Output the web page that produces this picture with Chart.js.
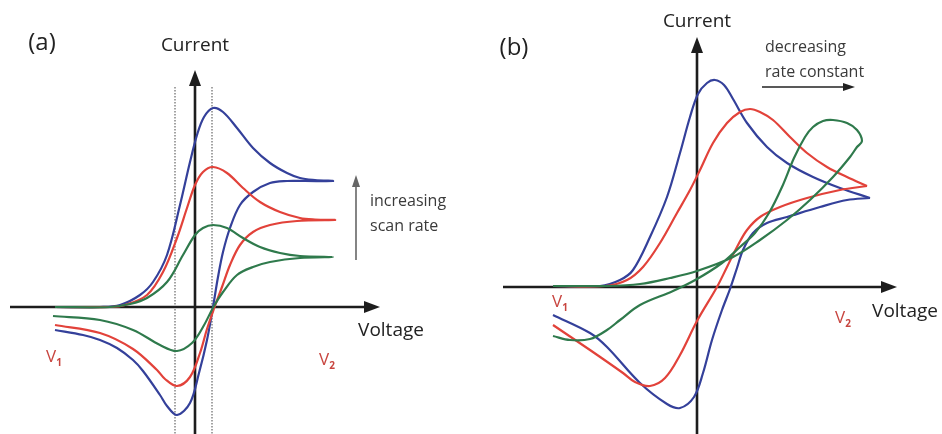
<!DOCTYPE html>
<html>
<head>
<meta charset="utf-8">
<script src="https://cdn.jsdelivr.net/npm/chart.js@4.4.1/dist/chart.umd.min.js"></script>
<style>
  html, body { margin: 0; padding: 0; background: #fff; }
  .row { display: flex; width: 942px; height: 434px; }
  .panel { position: relative; height: 434px; }
  #pa { width: 470px; }
  #pb { width: 472px; }
</style>
</head>
<body>
<div class="row">
  <div class="panel" id="pa"><canvas id="chartA"></canvas></div>
  <div class="panel" id="pb"><canvas id="chartB"></canvas></div>
</div>
<script>
'use strict';

/* Two schematic cyclic voltammograms: (a) scan-rate series, (b) rate-constant series.
   Values are [voltage, current] in arbitrary units, origin at the axes crossing. */

// ---------------------------------------------------------------- (a) scan rate
const aBlueFwd = [[-14, 0], [-9.5, 0], [-7.5, 0.2], [-5.5, 1.2], [-4.2, 2.5], [-2.8, 5.2], [-1.5, 10.2], [-0.5, 14.5],
  [0.2, 17.2], [0.9, 19.0], [1.8, 19.9], [2.8, 19.5], [4.2, 17.9], [5.8, 15.9], [7.5, 14.4], [9.2, 13.4], [10.5, 12.9],
  [12, 12.7], [13.8, 12.6]];
const aBlueRev = [[13.8, 12.6], [11, 12.6], [9.2, 12.6], [7.5, 12.4], [5.8, 11.5], [4.5, 10.2], [3.5, 7.9], [2.8, 5.5],
  [2.3, 3.0], [1.8, 0], [1.2, -3.3], [0.4, -6.6], [-0.5, -9.6], [-1.8, -10.8], [-2.8, -9.9], [-3.5, -8.8],
  [-5.2, -6.4], [-6.2, -5.3], [-7.8, -4.1], [-9.5, -3.3], [-11.2, -2.8], [-14, -2.3]];

const aRedFwd = [[-14, 0], [-8.5, 0], [-7, 0.2], [-4.8, 1.2], [-3.2, 3.5], [-1.8, 6.9], [-0.8, 9.9], [0, 12.2], [0.8, 13.5],
  [1.8, 14.0], [3.2, 13.4], [4.8, 11.9], [6.5, 10.5], [8.5, 9.5], [10.5, 8.9], [12, 8.75], [14, 8.7]];
const aRedRev = [[14, 8.7], [10.2, 8.6], [7.5, 8.2], [5.8, 7.5], [4.5, 6.2], [3.5, 4.2], [2.7, 2.0], [1.85, -0.3],
  [1.2, -2.2], [0.5, -4.6], [-0.5, -7.0], [-1.8, -7.9], [-3, -7.2], [-3.8, -6.3], [-6.2, -4.2], [-9.5, -2.6], [-14, -1.8]];

const aGreenFwd = [[-14, 0], [-8.5, 0], [-6.5, 0.3], [-4.8, 0.9], [-2.8, 2.5], [-1.2, 5.2], [0, 7.2], [0.8, 7.9],
  [1.8, 8.2], [3.2, 7.9], [4.8, 6.9], [6.5, 6.0], [8.5, 5.4], [10.5, 5.1], [13.8, 5.0]];
const aGreenRev = [[13.8, 5.0], [10.5, 4.9], [7.5, 4.5], [5.8, 4.0], [4.2, 3.2], [2.8, 1.5], [1.9, 0.1], [0.8, -2.0],
  [-0.3, -3.6], [-1.8, -4.4], [-3.5, -3.8], [-6.2, -2.3], [-9.5, -1.3], [-14.2, -0.9]];

// ---------------------------------------------------------------- (b) rate constant
const bBlueFwd = [[-14.4, 0.1], [-9.7, 0.1], [-7.7, 0.7], [-6.4, 1.7], [-4.7, 5.0], [-3.0, 9.0], [-1.7, 13.4], [-0.7, 17.0],
  [0.1, 19.3], [1.0, 20.4], [1.8, 20.7], [2.7, 20.2], [3.6, 18.8], [5.0, 16.4], [7.0, 14.0], [9.0, 12.4], [11.6, 11.0],
  [14.3, 9.9], [17.3, 8.9]];
const bBlueRev = [[17.3, 8.9], [15, 8.7], [12.3, 8.0], [9.0, 7.0], [7.0, 6.4], [5.6, 5.4], [4.6, 3.7], [4.0, 1.9], [3.3, -0.2],
  [2.5, -2.3], [1.5, -5.3], [0.6, -8.6], [-0.3, -11.0], [-1.7, -12.1], [-3, -11.7], [-5.7, -9.6], [-9, -6],
  [-10.7, -4.6], [-14.4, -2.8]];

const bRedFwd = [[-14.4, 0.1], [-9.2, 0.1], [-7.0, 0.7], [-5.4, 2.0], [-3.7, 4.4], [-2.0, 7.4], [-0.7, 9.7], [0.3, 11.7],
  [1.6, 14.4], [3.0, 16.4], [4.3, 17.5], [5.3, 17.8], [6.3, 17.5], [7.6, 16.7], [9.3, 15.0], [11, 13.4], [13, 12.0],
  [15, 11.0], [17, 10.1]];
const bRedRev = [[17, 10.1], [14.3, 9.7], [11, 8.9], [8.3, 8.0], [6.3, 7.0], [5.0, 5.7], [4.0, 4.0], [3.0, 2.0], [2.0, 0],
  [0, -3.4], [-1.7, -6.8], [-3.2, -9.1], [-4.7, -9.9], [-6.2, -9.5], [-7.4, -8.6], [-10.7, -6.3], [-14.4, -3.8]];

const bGreenFwd = [[-14.4, 0.1], [-9, 0.1], [-5.7, 0.3], [-2.7, 0.9], [0, 1.6], [3.6, 3.0], [6.3, 4.7], [9.0, 6.7],
  [11.3, 8.7], [13.6, 11.0], [15.3, 13.0], [16, 14.0], [16.5, 14.6]];
const bGreenRev = [[16.5, 14.6], [16, 15.7], [15, 16.4], [13.6, 16.7], [12.6, 16.6], [11.6, 16.0], [10.8, 15.0], [9.7, 12.9],
  [8.5, 10.0], [7.2, 7.4], [5.8, 5.4], [4.3, 4.0], [2.5, 2.4], [0, 0.8], [-2.4, -0.4], [-5.7, -1.8], [-7.7, -3.3],
  [-9, -4.3], [-10.7, -5.2], [-12.7, -5.3], [-14.4, -4.9]];

const COLORS = { blue: '#34409a', red: '#e2423a', green: '#2f7a4c' };
const FONT = '"Open Sans", "DejaVu Sans", sans-serif';

// ---------------------------------------------------------------- decorations
function arrowHead(ctx, x, y, dir, len, half) {
  // dir: 'up' | 'right'
  ctx.beginPath();
  if (dir === 'up') { ctx.moveTo(x, y); ctx.lineTo(x - half, y + len); ctx.lineTo(x + half, y + len); }
  else { ctx.moveTo(x, y); ctx.lineTo(x - len, y - half); ctx.lineTo(x - len, y + half); }
  ctx.closePath();
  ctx.fill();
}

function vLabel(ctx, X, Y, l) {
  ctx.fillStyle = '#c8453f';
  ctx.font = `17px ${FONT}`;
  ctx.textAlign = 'center'; ctx.textBaseline = 'middle';
  const px = X(l.at[0]), py = Y(l.at[1]);
  ctx.fillText('V', px - 3, py);
  ctx.font = `bold 10px ${FONT}`;
  ctx.fillText(l.sub, px + 5, py + 6);
}

const decor = {
  id: 'decor',
  beforeDatasetsDraw(chart, args, o) {
    const { ctx, scales: { x, y } } = chart;
    const X = (v) => x.getPixelForValue(v), Y = (v) => y.getPixelForValue(v);
    ctx.save();
    (o.guides || []).forEach((g) => {
      ctx.strokeStyle = 'rgba(120,120,120,0.85)';
      ctx.lineWidth = 1.6;
      ctx.setLineDash([1.5, 1.5]);
      ctx.beginPath(); ctx.moveTo(X(g), Y(o.guideTop)); ctx.lineTo(X(g), Y(o.yAxis[0])); ctx.stroke();
    });
    ctx.setLineDash([]);
    ctx.strokeStyle = '#1d1d1d'; ctx.fillStyle = '#1d1d1d'; ctx.lineWidth = 2.6;
    ctx.beginPath();
    ctx.moveTo(X(o.xAxis[0]), Y(0)); ctx.lineTo(X(o.xAxis[1]) - 10, Y(0));
    ctx.moveTo(X(0), Y(o.yAxis[0])); ctx.lineTo(X(0), Y(o.yAxis[1]) + 10);
    ctx.stroke();
    arrowHead(ctx, X(o.xAxis[1]), Y(0), 'right', 16, 6);
    arrowHead(ctx, X(0), Y(o.yAxis[1]), 'up', 16, 6);
    ctx.restore();
  },
  afterDatasetsDraw(chart, args, o) {
    const { ctx, scales: { x, y } } = chart;
    const X = (v) => x.getPixelForValue(v), Y = (v) => y.getPixelForValue(v);
    ctx.save();
    ctx.fillStyle = '#222'; ctx.textAlign = 'center'; ctx.textBaseline = 'middle';
    ctx.font = `24px ${FONT}`;
    ctx.fillText(o.tag.text, X(o.tag.at[0]), Y(o.tag.at[1]));
    ctx.font = `19px ${FONT}`;
    ctx.fillText('Current', X(o.current[0]), Y(o.current[1]));
    ctx.fillText('Voltage', X(o.voltage[0]), Y(o.voltage[1]));
    o.vs.forEach((l) => vLabel(ctx, X, Y, l));

    // note with its arrow
    const n = o.note;
    ctx.fillStyle = '#3a3a3a'; ctx.textAlign = 'left';
    ctx.font = `16px ${FONT}`;
    n.lines.forEach((t, i) => ctx.fillText(t, X(n.at[0]), Y(n.at[1]) + i * 25));
    ctx.strokeStyle = n.arrowColor; ctx.fillStyle = n.arrowColor; ctx.lineWidth = 1.6;
    ctx.beginPath();
    if (n.dir === 'up') {
      ctx.moveTo(X(n.arrow[0]), Y(n.arrow[1])); ctx.lineTo(X(n.arrow[0]), Y(n.arrow[2]) + 8);
      ctx.stroke();
      arrowHead(ctx, X(n.arrow[0]), Y(n.arrow[2]), 'up', 12, 4);
    } else {
      ctx.moveTo(X(n.arrow[0]), Y(n.arrow[2])); ctx.lineTo(X(n.arrow[1]) - 8, Y(n.arrow[2]));
      ctx.stroke();
      arrowHead(ctx, X(n.arrow[1]), Y(n.arrow[2]), 'right', 12, 4);
    }
    ctx.restore();
  },
};

// ---------------------------------------------------------------- charts
// one stroke per sweep pair; `loop` joins the two sweeps so the turn at V2 stays rounded
function line(fwd, rev, color, loop) {
  const base = { borderColor: color, borderWidth: 2.2, showLine: true, tension: 0.35, pointRadius: 0, fill: false };
  if (loop) return [{ ...base, data: fwd.concat(rev.slice(1)) }];
  return [{ ...base, data: fwd }, { ...base, data: rev }];
}

function makeChart(id, datasets, range, decorOpts) {
  return new Chart(document.getElementById(id), {
    type: 'scatter',
    data: { datasets },
    options: {
      responsive: true, maintainAspectRatio: false, animation: false,
      layout: { padding: 0 },
      events: [],
      scales: {
        x: { type: 'linear', display: false, min: range.x[0], max: range.x[1] },
        y: { type: 'linear', display: false, min: range.y[0], max: range.y[1] },
      },
      plugins: { legend: { display: false }, tooltip: { enabled: false }, decor: decorOpts },
    },
    plugins: [decor],
  });
}

makeChart('chartA', [
  ...line(aGreenFwd, aGreenRev, COLORS.green, true),
  ...line(aRedFwd, aRedRev, COLORS.red, true),
  ...line(aBlueFwd, aBlueRev, COLORS.blue, true),
], { x: [-19.5, 27.5], y: [-12.7, 30.7] }, {
  xAxis: [-18.5, 18.5], yAxis: [-12.7, 23.7],
  guides: [-2.0, 1.7], guideTop: 22,
  tag: { text: '(a)', at: [-15.3, 26.4] },
  current: [0, 26.1], voltage: [19.6, -2.4],
  vs: [{ sub: '1', at: [-14.1, -5.0] }, { sub: '2', at: [13.2, -5.3] }],
  note: { lines: ['increasing', 'scan rate'], at: [17.5, 10.6], dir: 'up', arrow: [16.1, 4.7, 13.2], arrowColor: '#666' },
});

makeChart('chartB', [
  ...line(bGreenFwd, bGreenRev, COLORS.green, true),
  ...line(bRedFwd, bRedRev, COLORS.red, false),
  ...line(bBlueFwd, bBlueRev, COLORS.blue, false),
], { x: [-22.7, 24.5], y: [-14.7, 28.7] }, {
  xAxis: [-19.4, 20.0], yAxis: [-14.7, 25.0],
  guides: [], guideTop: 0,
  tag: { text: '(b)', at: [-18.3, 23.9] },
  current: [0, 26.5], voltage: [20.8, -2.5],
  vs: [{ sub: '1', at: [-13.7, -1.5] }, { sub: '2', at: [14.6, -3.1] }],
  note: { lines: ['decreasing', 'rate constant'], at: [6.8, 24.0], dir: 'right', arrow: [6.5, 15.8, 20.0], arrowColor: '#222' },
});
</script>
</body>
</html>
